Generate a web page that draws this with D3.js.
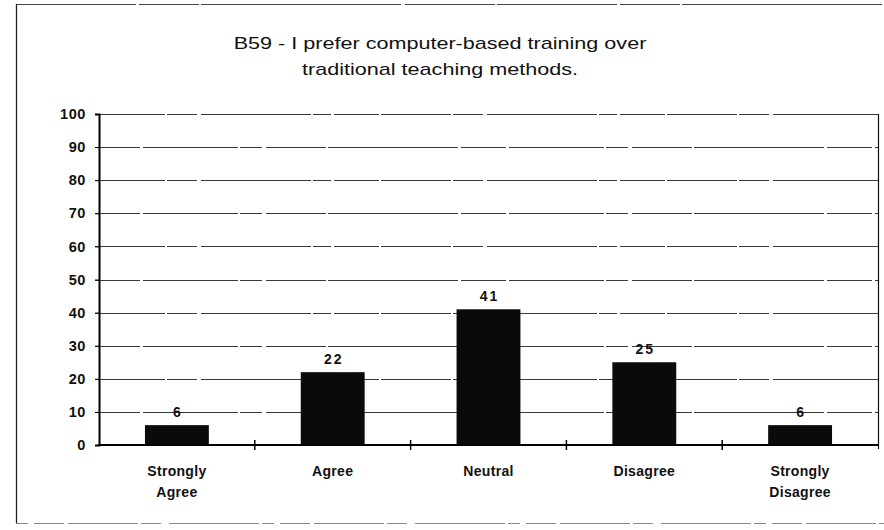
<!DOCTYPE html>
<html>
<head>
<meta charset="utf-8">
<script src="https://cdn.jsdelivr.net/npm/d3@7"></script>
<style>
  html, body { margin: 0; padding: 0; background: #fff; }
  svg { display: block; }
  text { font-family: "Liberation Sans", Arial, sans-serif; fill: #111; }
</style>
</head>
<body>
<svg id="chart" width="884" height="530"></svg>
<script>
// Survey item B59: share of responses (%) per answer
const categories = ["Strongly Agree", "Agree", "Neutral", "Disagree", "Strongly Disagree"];
const categoryLines = [["Strongly", "Agree"], ["Agree"], ["Neutral"], ["Disagree"], ["Strongly", "Disagree"]];
const values = [6, 22, 41, 25, 6];
const yTicks = [0, 10, 20, 30, 40, 50, 60, 70, 80, 90, 100];
const titleLines = ["B59 - I prefer computer-based training over", "traditional teaching methods."];

const svg = d3.select("#chart");
const margin = { left: 99, right: 6, top: 114, bottom: 85 };
const W = 884, H = 530;

// outer frame (top, left, bottom edges)
const frame = svg.append("g").attr("fill", "none");
frame.append("line").attr("x1", 16).attr("x2", 884).attr("y1", 4.5).attr("y2", 4.5)
  .attr("stroke", "#444").attr("stroke-width", 1.2).attr("stroke-dasharray", "120,3,60,2,200,4,90,2");
frame.append("line").attr("x1", 16.5).attr("x2", 16.5).attr("y1", 4).attr("y2", 523)
  .attr("stroke", "#222").attr("stroke-width", 1.3);
frame.append("line").attr("x1", 16).attr("x2", 884).attr("y1", 523.5).attr("y2", 523.5)
  .attr("stroke", "#888").attr("stroke-width", 1).attr("stroke-dasharray", "12,6,30,4,70,3,20,8,90,3");

const x = d3.scaleBand()
  .domain(categories)
  .range([margin.left, W - margin.right])
  .paddingInner(0.59).paddingOuter(0.295);

const y = d3.scaleLinear()
  .domain([0, 100])
  .range([H - margin.bottom, margin.top]);

// title, set slightly wide
svg.append("g").selectAll("text")
  .data(titleLines)
  .join("text")
  .attr("transform", (d, i) => `translate(440,${49 + i * 26}) scale(1.27,1)`)
  .attr("text-anchor", "middle")
  .style("font-size", "17px")
  .text(d => d);

// horizontal gridlines
svg.append("g").selectAll("line")
  .data(yTicks.filter(t => t > 0))
  .join("line")
  .attr("x1", margin.left - 4).attr("x2", W - margin.right)
  .attr("y1", d => Math.round(y(d)) + 0.5).attr("y2", d => Math.round(y(d)) + 0.5)
  .attr("stroke", "#3a3a3a").attr("stroke-width", 1)
  .attr("stroke-dasharray", (d, i) => i % 2 ? "70,2,30,4,110,2,18,3,45,2" : "45,3,95,2,22,4,60,2,130,3");

// right border of plot area
svg.append("line")
  .attr("x1", W - margin.right + 0.5).attr("x2", W - margin.right + 0.5)
  .attr("y1", y(100)).attr("y2", y(0) + 4)
  .attr("stroke", "#111").attr("stroke-width", 1.2);

// bars
svg.append("g").selectAll("rect")
  .data(values)
  .join("rect")
  .attr("x", (d, i) => x(categories[i]))
  .attr("width", x.bandwidth())
  .attr("y", d => y(d))
  .attr("height", d => y(0) - y(d))
  .attr("fill", "#0a0a0a");

// value labels
svg.append("g").selectAll("text")
  .data(values)
  .join("text")
  .attr("x", (d, i) => x(categories[i]) + x.bandwidth() / 2 + 1)
  .attr("y", d => y(d) - 8)
  .attr("text-anchor", "middle")
  .style("font-size", "14px").style("font-weight", "bold").style("letter-spacing", "2px")
  .text(d => d);

// y axis
const yAxis = d3.axisLeft(y).tickValues(yTicks).tickSize(4).tickPadding(9);
const gy = svg.append("g")
  .attr("transform", `translate(${margin.left},0)`)
  .call(yAxis);
gy.select(".domain").attr("stroke", "#000").attr("stroke-width", 2);
gy.selectAll(".tick line").attr("stroke", "#000");
gy.selectAll(".tick text")
  .style("font-family", "'Liberation Sans', Arial, sans-serif")
  .style("font-size", "14.5px").style("font-weight", "bold").style("letter-spacing", "0.6px")
  .attr("fill", "#111");

// x axis baseline with boundary ticks between categories
svg.append("line")
  .attr("x1", margin.left - 1).attr("x2", W - margin.right)
  .attr("y1", y(0)).attr("y2", y(0))
  .attr("stroke", "#000").attr("stroke-width", 2);
svg.append("g").selectAll("line")
  .data(d3.range(1, categories.length))
  .join("line")
  .attr("x1", i => x(categories[i - 1]) + x.bandwidth() + (x.step() - x.bandwidth()) / 2)
  .attr("x2", i => x(categories[i - 1]) + x.bandwidth() + (x.step() - x.bandwidth()) / 2)
  .attr("y1", y(0) - 5).attr("y2", y(0) + 5)
  .attr("stroke", "#000").attr("stroke-width", 1.5);

// category labels
const cat = svg.append("g").selectAll("text")
  .data(categoryLines)
  .join("text")
  .attr("x", (d, i) => x(categories[i]) + x.bandwidth() / 2)
  .attr("y", 476)
  .attr("text-anchor", "middle")
  .style("font-size", "14px").style("font-weight", "bold").style("letter-spacing", "0.3px");
cat.selectAll("tspan")
  .data(d => d)
  .join("tspan")
  .attr("x", function () { return d3.select(this.parentNode).attr("x"); })
  .attr("dy", (d, i) => i === 0 ? 0 : 21)
  .text(d => d);
</script>
</body>
</html>
